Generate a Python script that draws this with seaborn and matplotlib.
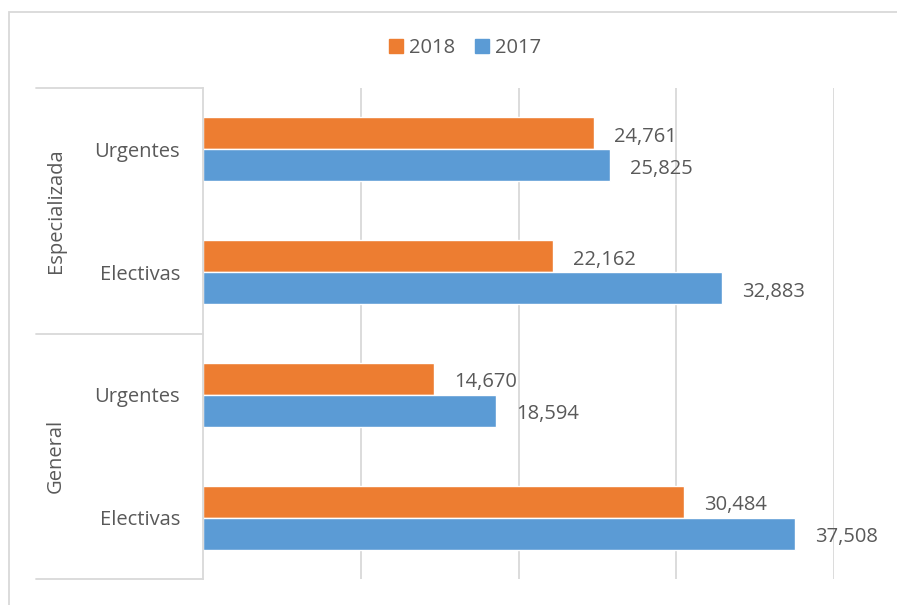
import matplotlib
matplotlib.use("Agg")
import matplotlib.pyplot as plt
import seaborn as sns
import pandas as pd
from matplotlib.patches import Rectangle

groups = ["Especializada", "Especializada", "General", "General"]
subcats = ["Urgentes", "Electivas", "Urgentes", "Electivas"]
vals_2018 = [24761, 22162, 14670, 30484]
vals_2017 = [25825, 32883, 18594, 37508]
years = ["2018", "2017"]
colors = {"2018": "#ED7D31", "2017": "#5B9BD5"}

keys = [f"{g}|{s}" for g, s in zip(groups, subcats)]
rows = []
for k, a, b in zip(keys, vals_2018, vals_2017):
    rows.append({"cat": k, "year": "2018", "val": a})
    rows.append({"cat": k, "year": "2017", "val": b})
df = pd.DataFrame(rows)

sns.set_theme(style="white")
plt.rcParams["font.family"] = ["Open Sans", "DejaVu Sans"]
txt = "#595959"
grid = "#d9d9d9"
fs = 14.5

fig = plt.figure(figsize=(8.97, 6.05), dpi=100)
ax = fig.add_axes([203/897, 1-579/605, (834-203)/897, (579-88)/605])

sns.barplot(data=df, y="cat", x="val", hue="year", hue_order=years,
            palette=colors, order=keys, orient="h", width=0.52,
            ax=ax, legend=False, saturation=1)

ax.set_xlim(0, 40000)
ax.set_ylim(3.5, -0.5)
ax.set_xlabel("")
ax.set_ylabel("")
ax.set_xticks([10000, 20000, 30000, 40000])
ax.set_xticklabels([])
ax.tick_params(axis="x", length=0)
ax.tick_params(axis="y", length=0, pad=16.5)
ax.set_yticks(range(len(keys)))
ax.set_yticklabels(subcats, fontsize=fs, color=txt)
ax.xaxis.grid(True, color=grid, linewidth=1.3)
ax.set_axisbelow(True)
for s in ["top", "right", "bottom"]:
    ax.spines[s].set_visible(False)
ax.spines["left"].set_color(grid)
ax.spines["left"].set_linewidth(1.3)

# value labels
for cont in ax.containers:
    for p in cont:
        w = p.get_width()
        ax.annotate(f"{int(w):,}", (w, p.get_y() + p.get_height()/2),
                    xytext=(20, -1), textcoords="offset pixels",
                    ha="left", va="center_baseline", fontsize=fs, color=txt)

# group separators
xl = (36 - 203) / (834 - 203)
for yv in [0.0, 0.5, 1.0]:
    ax.plot([xl, 0], [yv, yv], transform=ax.transAxes, color=grid,
            linewidth=1.3, clip_on=False)
ax.text(xl + (0 - xl) * 0.12, 0.75, "Especializada", transform=ax.transAxes,
        rotation=90, ha="center", va="center", fontsize=fs, color=txt)
ax.text(xl + (0 - xl) * 0.12, 0.25, "General", transform=ax.transAxes,
        rotation=90, ha="center", va="center", fontsize=fs, color=txt)

# legend
handles = [Rectangle((0, 0), 1, 1, color=colors[y]) for y in years]
fig.legend(handles, years, loc="center", bbox_to_anchor=(465/897, 1-48/605),
           ncol=2, frameon=False, fontsize=fs, handlelength=0.7, handleheight=0.7,
           handletextpad=0.3, columnspacing=1.0, labelcolor=txt)

# chart border
fig.patches.append(Rectangle((9/897, -0.05), 1.2, 1 - 12/605 + 0.05,
                             transform=fig.transFigure, fill=False,
                             edgecolor=grid, linewidth=1.3))

fig.savefig("out.png", dpi=100)
